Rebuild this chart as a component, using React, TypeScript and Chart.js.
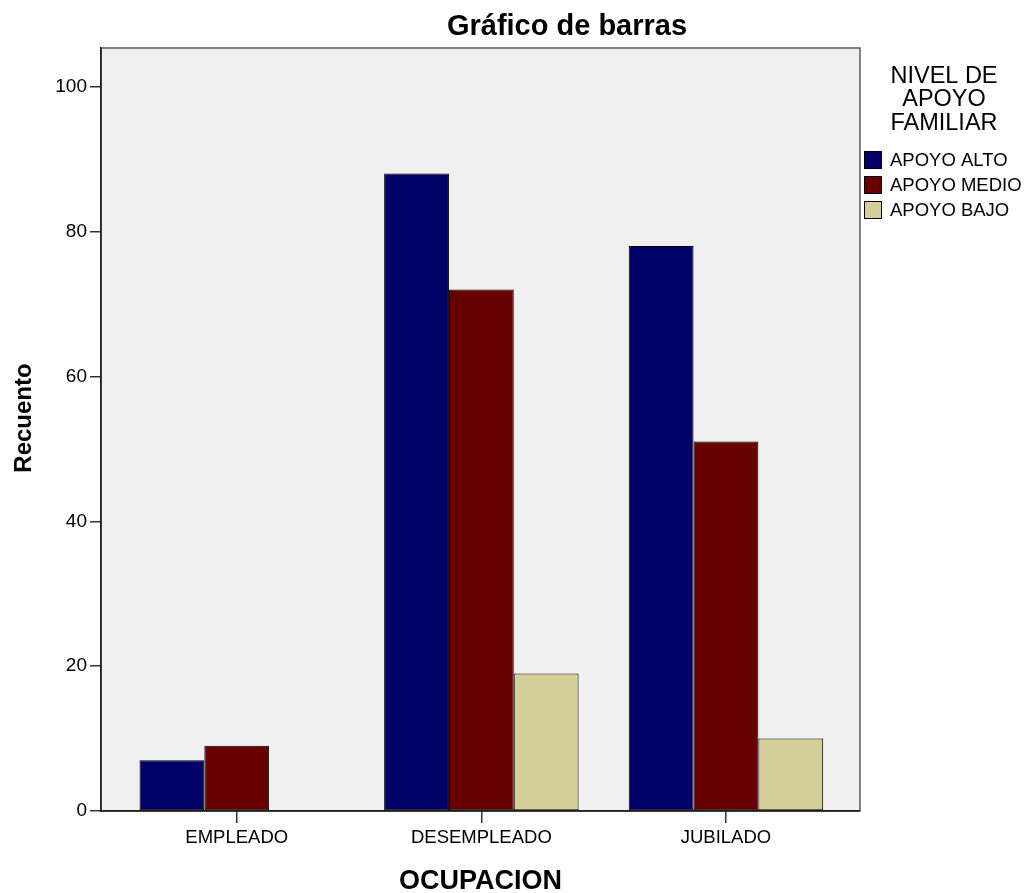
import React, { useEffect, useRef } from "react";
import { Chart, registerables } from "chart.js";

Chart.register(...registerables);

const categories = ["EMPLEADO", "DESEMPLEADO", "JUBILADO"];
const seriesLabels = ["APOYO ALTO", "APOYO MEDIO", "APOYO BAJO"];
const apoyoAlto = [7, 88, 78];
const apoyoMedio = [9, 72, 51];
const apoyoBajo = [0, 19, 10];
const yTickValues = [0, 20, 40, 60, 80, 100];
const legendTitleLines = ["NIVEL DE", "APOYO", "FAMILIAR"];
const chartTitle = "Gráfico de barras";
const xTitle = "OCUPACION";
const yTitle = "Recuento";

const seriesColors = ["#000066", "#660000", "#D4CF98"];
const FONT = "'Liberation Sans', Arial, sans-serif";

const overlayPlugin = {
  id: "overlay",
  beforeDraw(chart: any) {
    const { ctx, chartArea: a } = chart;
    ctx.save();
    ctx.fillStyle = "#ffffff";
    ctx.fillRect(0, 0, chart.width, chart.height);
    ctx.fillStyle = "#F0F0F0";
    ctx.fillRect(a.left, a.top, a.right - a.left, a.bottom - a.top);
    ctx.restore();
  },
  afterDraw(chart: any) {
    const { ctx, chartArea: a } = chart;
    ctx.save();
    // frame
    ctx.strokeStyle = "#5a5a5a";
    ctx.lineWidth = 1.5;
    ctx.beginPath();
    ctx.moveTo(a.left, a.top);
    ctx.lineTo(a.right, a.top);
    ctx.lineTo(a.right, a.bottom);
    ctx.stroke();
    ctx.strokeStyle = "#222";
    ctx.beginPath();
    ctx.moveTo(a.left, a.top);
    ctx.lineTo(a.left, a.bottom);
    ctx.lineTo(a.right, a.bottom);
    ctx.stroke();

    ctx.fillStyle = "#000";
    // main title
    ctx.font = `bold 29px ${FONT}`;
    ctx.textAlign = "center";
    ctx.textBaseline = "alphabetic";
    ctx.fillText(chartTitle, 567, 35);
    // x title
    ctx.font = `bold 27px ${FONT}`;
    ctx.fillText(xTitle, (a.left + a.right) / 2, 889);
    // y title
    ctx.save();
    ctx.translate(24, 418);
    ctx.rotate(-Math.PI / 2);
    ctx.font = `bold 24px ${FONT}`;
    ctx.textBaseline = "middle";
    ctx.fillText(yTitle, 0, 0);
    ctx.restore();

    // legend title
    const baselines = [83, 106, 130];
    ctx.font = `23.5px ${FONT}`;
    ctx.textAlign = "center";
    ctx.textBaseline = "alphabetic";
    legendTitleLines.forEach((line, i) => {
      ctx.fillText(line, 944, baselines[i]);
    });

    // legend items
    ctx.font = `18.5px ${FONT}`;
    ctx.textAlign = "left";
    ctx.textBaseline = "middle";
    seriesLabels.forEach((lab, i) => {
      const top = 151 + i * 25;
      ctx.fillStyle = seriesColors[i];
      ctx.fillRect(864, top, 18, 18);
      ctx.strokeStyle = "#000";
      ctx.lineWidth = 1;
      ctx.strokeRect(864.5, top + 0.5, 17, 17);
      ctx.fillStyle = "#000";
      ctx.fillText(lab, 890, top + 10);
    });
    ctx.restore();
  },
};

export default function App() {
  const ref = useRef<HTMLCanvasElement | null>(null);
  useEffect(() => {
    document.body.style.margin = "0";
    const seriesData = [apoyoAlto, apoyoMedio, apoyoBajo];
    const chart = new Chart(ref.current as HTMLCanvasElement, {
      type: "bar",
      data: {
        datasets: seriesData.map((vals, s) => ({
          label: seriesLabels[s],
          data: vals.map((v, i) => ({ x: i, y: v })),
          backgroundColor: seriesColors[s],
          borderColor: "#000",
          borderWidth: 1,
          borderSkipped: false,
          barPercentage: 1,
          categoryPercentage: 0.795,
        })),
      },
      options: {
        responsive: false,
        animation: false,
        devicePixelRatio: 1,
        layout: { padding: { top: 48, right: 166, left: 0, bottom: 0 } },
        plugins: { legend: { display: false }, title: { display: false }, tooltip: { enabled: false } },
        scales: {
          x: {
            type: "linear",
            offset: false,
            min: -0.555,
            max: 2.548,
            afterBuildTicks: (scale: any) => {
              scale.ticks = categories.map((_, i) => ({ value: i }));
            },
            afterFit: (scale: any) => {
              scale.height = 82;
            },
            ticks: {
              autoSkip: false,
              maxRotation: 0,
              padding: 4,
              color: "#000",
              font: { family: FONT, size: 18.5 },
              callback: (v: any) => categories[v] ?? "",
            },
            grid: { offset: false, drawOnChartArea: false, drawTicks: true, tickLength: 12, color: "#333", lineWidth: 1.5 },
            border: { display: true, color: "#222", width: 1.5 },
          },
          y: {
            type: "linear",
            min: 0,
            max: 105.34,
            afterBuildTicks: (scale: any) => {
              scale.ticks = yTickValues.map((v) => ({ value: v }));
            },
            afterFit: (scale: any) => {
              scale.width = 101;
            },
            ticks: {
              padding: 3,
              color: "#000",
              font: { family: FONT, size: 19 },
            },
            grid: { drawOnChartArea: false, drawTicks: true, tickLength: 11, color: "#333", lineWidth: 1.5 },
            border: { display: true, color: "#222", width: 1.5 },
          },
        },
      } as any,
      plugins: [overlayPlugin],
    });
    return () => chart.destroy();
  }, []);
  return (
    <div style={{ position: "absolute", left: 0, top: 0, width: 1026, height: 893 }}>
      <canvas ref={ref} width={1026} height={893} style={{ width: 1026, height: 893, display: "block" }} />
    </div>
  );
}
